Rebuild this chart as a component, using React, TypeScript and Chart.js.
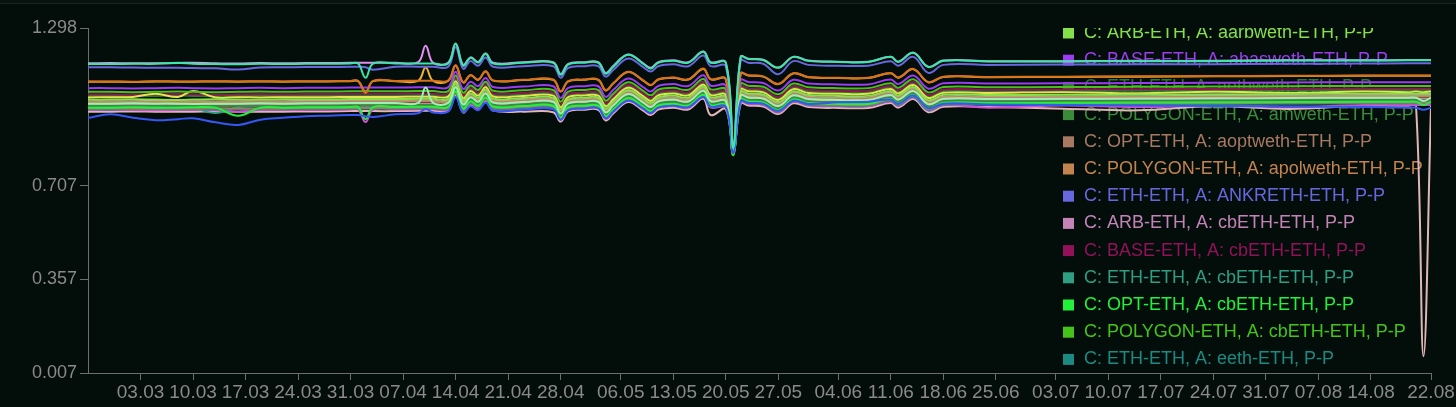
import React, { useEffect, useRef } from "react";
import { Chart, registerables } from "chart.js";

Chart.register(...registerables);

// Day offsets from 25.02 (day 0) to 22.08 (day 179)
const DAYS = [0,3,6,9,12,14,17,20,23,26,29,32,35,36,37,38,41,44,45,46,48,49,50,51,52,53,54,58,62,63,64,66,68,69,70,72,74,75,76,78,80,82,83,85,86,87,88,90,92,94,96,100,104,107,108,110,112,114,120,130,140,150,160,170,176,177,178,179];

const X_TICK_DAYS = [7,14,21,28,35,42,49,56,63,71,78,85,92,100,107,114,121,129,136,143,150,157,164,171,179];
const X_TICK_LABELS = ["03.03","10.03","17.03","24.03","31.03","07.04","14.04","21.04","28.04","06.05","13.05","20.05","27.05","04.06","11.06","18.06","25.06","03.07","10.07","17.07","24.07","31.07","07.08","14.08","22.08"];
const Y_TICKS = [0.007, 0.357, 0.707, 1.298];
const Y_MIN = 0.007;
const Y_MAX = 1.298;

const aarbweth = [1.030,1.030,1.031,1.030,1.029,1.030,1.031,1.030,1.030,1.031,1.031,1.031,1.032,1.032,1.032,1.032,1.032,1.033,1.033,1.033,1.033,1.091,1.027,1.054,1.037,1.068,1.034,1.036,1.037,0.993,1.031,1.037,1.037,0.997,1.023,1.066,1.034,1.017,1.038,1.045,1.038,1.078,1.039,1.039,0.840,1.060,1.053,1.049,1.021,1.061,1.047,1.044,1.044,1.062,1.045,1.077,1.028,1.048,1.047,1.048,1.049,1.050,1.051,1.052,1.052,1.052,1.052,1.052];
const abasweth = [1.073,1.073,1.072,1.073,1.074,1.073,1.072,1.073,1.074,1.073,1.074,1.074,1.075,1.075,1.075,1.075,1.075,1.076,1.076,1.076,1.076,1.134,1.070,1.097,1.080,1.111,1.077,1.079,1.080,1.036,1.074,1.080,1.080,1.040,1.066,1.109,1.077,1.060,1.081,1.088,1.081,1.121,1.082,1.082,0.838,1.103,1.096,1.092,1.064,1.104,1.090,1.087,1.087,1.105,1.088,1.120,1.071,1.091,1.090,1.091,1.092,1.093,1.094,1.095,1.095,1.095,1.095,1.095];
const aethweth = [1.044,1.044,1.043,1.044,1.045,1.044,1.043,1.044,1.045,1.044,1.045,1.045,1.046,1.046,1.046,1.046,1.046,1.047,1.047,1.047,1.047,1.105,1.041,1.068,1.051,1.082,1.048,1.050,1.051,1.007,1.045,1.051,1.051,1.011,1.037,1.080,1.048,1.031,1.052,1.059,1.052,1.092,1.053,1.053,0.826,1.074,1.067,1.063,1.035,1.075,1.061,1.058,1.058,1.076,1.059,1.091,1.042,1.062,1.061,1.062,1.063,1.064,1.065,1.066,1.066,1.066,1.066,1.066];
const amweth = [1.007,1.007,1.007,1.008,1.007,1.007,1.006,1.007,1.007,1.007,1.008,1.008,1.009,1.009,1.009,1.009,1.009,1.010,1.010,1.010,1.010,1.068,1.004,1.031,1.014,1.045,1.011,1.013,1.014,0.970,1.008,1.014,1.014,0.974,1.000,1.043,1.011,0.994,1.015,1.022,1.015,1.055,1.016,1.016,0.832,1.037,1.030,1.026,0.998,1.038,1.024,1.021,1.021,1.039,1.022,1.054,1.005,1.025,1.024,1.025,1.026,1.027,1.028,1.029,1.029,1.029,1.029,1.029];
const aoptweth = [0.997,0.997,0.996,0.997,0.997,0.997,0.998,0.997,0.997,0.997,0.998,0.998,0.999,0.999,0.999,0.999,0.999,1.000,1.000,1.000,1.000,1.058,0.994,1.021,1.004,1.035,1.001,1.003,1.004,0.960,0.998,1.004,1.004,0.964,0.990,1.033,1.001,0.984,1.005,1.012,1.005,1.045,1.006,1.006,0.828,1.027,1.020,1.016,0.988,1.028,1.014,1.011,1.011,1.029,1.012,1.044,0.995,1.015,1.014,1.015,1.016,1.017,1.018,1.019,1.019,1.019,1.019,1.019];
const apolweth = [1.020,1.020,1.020,1.020,1.021,1.020,1.020,1.020,1.021,1.020,1.021,1.021,1.022,1.022,1.022,1.022,1.022,1.023,1.023,1.023,1.023,1.081,1.017,1.044,1.027,1.058,1.024,1.026,1.027,0.983,1.021,1.027,1.027,0.987,1.013,1.056,1.024,1.007,1.028,1.035,1.028,1.068,1.029,1.029,0.828,1.050,1.043,1.039,1.011,1.051,1.037,1.034,1.034,1.052,1.035,1.067,1.018,1.038,1.037,1.038,1.039,1.040,1.041,1.042,1.042,1.042,1.042,1.042];
const ankreth = [1.151,1.151,1.150,1.149,1.149,1.148,1.147,1.143,1.150,1.151,1.152,1.152,1.153,1.153,1.151,1.142,1.153,1.153,1.153,1.153,1.153,1.226,1.146,1.174,1.157,1.188,1.153,1.155,1.155,1.112,1.149,1.155,1.155,1.116,1.141,1.184,1.152,1.135,1.155,1.162,1.155,1.195,1.155,1.155,0.845,1.176,1.168,1.164,1.125,1.174,1.160,1.157,1.157,1.174,1.157,1.190,1.130,1.160,1.160,1.161,1.162,1.162,1.164,1.165,1.166,1.166,1.166,1.166];
const arbCb = [1.011,1.011,1.010,1.011,1.011,1.012,1.011,1.010,1.011,1.011,1.012,1.012,1.013,1.013,1.013,1.013,1.013,1.014,1.014,1.014,1.014,1.072,1.008,1.035,1.018,1.049,1.015,1.017,1.018,0.974,1.012,1.018,1.018,0.978,1.004,1.047,1.015,0.998,1.019,1.026,1.019,1.059,1.020,1.020,0.830,1.041,1.034,1.030,1.002,1.042,1.028,1.025,1.025,1.043,1.026,1.058,1.009,1.029,1.028,1.029,1.030,1.031,1.032,1.033,1.033,1.033,1.033,1.033];
const baseCb = [1.050,1.050,1.049,1.050,1.051,1.050,1.049,1.050,1.051,1.050,1.051,1.051,1.052,1.052,1.052,1.052,1.052,1.053,1.053,1.053,1.053,1.111,1.047,1.074,1.057,1.088,1.054,1.056,1.057,1.013,1.051,1.057,1.057,1.017,1.043,1.086,1.054,1.037,1.058,1.065,1.058,1.098,1.059,1.059,0.828,1.080,1.073,1.069,1.041,1.081,1.067,1.064,1.064,1.082,1.065,1.097,1.048,1.068,1.067,1.068,1.069,1.070,1.071,1.072,1.072,1.072,1.072,1.072];
const ethCb = [1.004,1.004,1.005,1.004,1.004,1.000,0.980,1.002,1.004,1.004,1.005,1.005,1.006,1.006,1.006,1.006,1.006,1.007,1.007,1.007,1.007,1.065,1.001,1.028,1.011,1.042,1.008,1.010,1.011,0.967,1.005,1.011,1.011,0.971,0.997,1.040,1.008,0.991,1.012,1.019,1.012,1.052,1.013,1.013,0.836,1.034,1.027,1.023,0.995,1.035,1.021,1.018,1.018,1.036,1.019,1.051,1.002,1.022,1.021,1.022,1.023,1.024,1.025,1.026,1.026,1.026,1.026,1.026];
const optCb = [1.000,1.000,1.001,1.000,1.000,1.001,1.000,0.970,1.000,1.000,1.001,1.001,1.002,1.002,0.957,1.002,1.002,1.003,1.003,1.003,1.003,1.061,0.997,1.024,1.007,1.038,1.004,1.006,1.007,0.963,1.001,1.007,1.007,0.967,0.993,1.036,1.004,0.987,1.008,1.015,1.008,1.048,1.009,1.009,0.822,1.030,1.023,1.019,0.991,1.031,1.017,1.014,1.014,1.032,1.015,1.047,0.998,1.018,1.017,1.018,1.019,1.020,1.021,1.022,1.022,1.022,1.010,1.022];
const polyCb = [1.059,1.059,1.058,1.059,1.060,1.059,1.058,1.059,1.060,1.059,1.060,1.060,1.061,1.061,1.061,1.061,1.061,1.062,1.062,1.062,1.062,1.120,1.056,1.083,1.066,1.097,1.063,1.065,1.066,1.022,1.060,1.066,1.066,1.026,1.052,1.095,1.063,1.046,1.067,1.074,1.067,1.107,1.068,1.068,0.832,1.089,1.082,1.078,1.050,1.090,1.076,1.073,1.073,1.091,1.074,1.106,1.057,1.077,1.076,1.077,1.078,1.079,1.080,1.081,1.081,1.081,1.081,1.081];
const eeth = [0.994,0.994,0.994,0.995,0.994,0.994,0.993,0.994,0.994,0.994,0.995,0.995,0.996,0.996,0.996,0.996,0.996,0.997,0.997,0.997,0.997,1.055,0.991,1.018,1.001,1.032,0.998,1.000,1.001,0.957,0.995,1.001,1.001,0.961,0.987,1.030,0.998,0.981,1.002,1.009,1.002,1.042,1.003,1.003,0.834,1.024,1.017,1.013,0.985,1.025,1.011,1.008,1.008,1.026,1.009,1.041,0.992,1.012,1.011,1.012,1.013,1.014,1.015,1.016,1.016,1.016,1.016,1.016];
const ezeth = [1.163,1.163,1.164,1.164,1.168,1.164,1.163,1.162,1.164,1.163,1.164,1.164,1.165,1.165,1.112,1.165,1.165,1.165,1.165,1.165,1.165,1.240,1.158,1.187,1.169,1.202,1.165,1.168,1.168,1.123,1.161,1.168,1.168,1.127,1.153,1.198,1.164,1.146,1.168,1.175,1.168,1.209,1.168,1.168,0.850,1.190,1.182,1.178,1.149,1.190,1.175,1.171,1.171,1.190,1.171,1.205,1.152,1.175,1.173,1.173,1.174,1.174,1.176,1.176,1.177,1.177,1.177,1.177];
const oseth = [1.166,1.167,1.166,1.166,1.167,1.168,1.166,1.165,1.167,1.166,1.167,1.167,1.168,1.168,1.168,1.168,1.168,1.170,1.232,1.168,1.168,1.238,1.160,1.188,1.171,1.203,1.168,1.170,1.170,1.126,1.164,1.170,1.170,1.130,1.156,1.199,1.166,1.149,1.170,1.177,1.170,1.210,1.170,1.170,0.860,1.190,1.183,1.179,1.150,1.190,1.176,1.172,1.172,1.190,1.172,1.205,1.153,1.176,1.174,1.174,1.175,1.175,1.177,1.177,1.178,1.178,1.178,1.178];
const reth = [1.098,1.098,1.097,1.099,1.098,1.098,1.099,1.098,1.099,1.098,1.099,1.099,1.100,1.100,1.055,1.100,1.100,1.101,1.101,1.101,1.101,1.159,1.095,1.122,1.105,1.136,1.102,1.104,1.105,1.061,1.099,1.105,1.105,1.065,1.091,1.134,1.102,1.085,1.106,1.113,1.106,1.146,1.107,1.107,0.835,1.128,1.121,1.117,1.089,1.129,1.115,1.112,1.112,1.130,1.113,1.145,1.096,1.116,1.115,1.116,1.117,1.118,1.119,1.120,1.120,1.120,1.120,1.120];
const arbReth = [1.097,1.097,1.096,1.098,1.097,1.097,1.098,1.097,1.098,1.097,1.098,1.098,1.099,1.099,1.060,1.099,1.099,1.100,1.150,1.100,1.100,1.158,1.094,1.121,1.104,1.135,1.101,1.103,1.104,1.060,1.098,1.104,1.104,1.064,1.090,1.133,1.101,1.084,1.105,1.112,1.105,1.145,1.106,1.106,0.834,1.127,1.120,1.116,1.088,1.128,1.114,1.111,1.111,1.129,1.112,1.144,1.095,1.115,1.114,1.115,1.116,1.117,1.118,1.119,1.119,1.119,1.119,1.119];
const rseth = [1.038,1.039,1.040,1.052,1.040,1.062,1.038,1.039,1.038,1.039,1.039,1.039,1.040,1.040,1.040,1.040,1.040,1.041,1.041,1.041,1.041,1.099,1.035,1.062,1.045,1.076,1.042,1.044,1.045,1.001,1.039,1.045,1.045,1.005,1.031,1.074,1.042,1.025,1.046,1.053,1.046,1.086,1.047,1.047,0.830,1.068,1.061,1.057,1.029,1.069,1.055,1.052,1.052,1.070,1.053,1.085,1.036,1.056,1.055,1.058,1.054,1.059,1.056,1.060,1.058,1.060,1.058,1.060];
const sfrxeth = [1.024,1.024,1.024,1.025,1.024,1.024,1.023,1.024,1.024,1.024,1.025,1.025,1.026,1.026,1.026,1.026,1.026,1.027,1.027,1.027,1.027,1.085,1.021,1.048,1.031,1.062,1.028,1.030,1.031,0.987,1.025,1.031,1.031,0.991,1.017,1.060,1.028,1.011,1.032,1.039,1.032,1.072,1.033,1.033,0.835,1.054,1.047,1.043,1.015,1.055,1.041,1.038,1.038,1.056,1.039,1.071,1.022,1.042,1.041,1.042,1.043,1.044,1.045,1.046,1.046,1.046,1.046,1.046];
const wsteth = [1.015,1.015,1.016,1.015,1.015,1.014,1.015,1.015,1.016,1.015,1.016,1.016,1.017,1.017,1.017,1.017,1.017,1.018,1.075,1.018,1.018,1.076,1.012,1.039,1.022,1.053,1.019,1.021,1.022,0.978,1.016,1.022,1.022,0.982,1.008,1.051,1.019,1.002,1.023,1.030,1.023,1.063,1.024,1.024,0.845,1.045,1.038,1.034,1.006,1.046,1.032,1.029,1.029,1.047,1.030,1.062,1.013,1.033,1.032,1.033,1.034,1.035,1.036,1.037,1.037,1.037,1.025,1.037];
const weeth = [0.991,0.992,0.991,0.990,0.991,0.991,0.990,0.985,0.991,0.991,0.992,0.992,0.993,0.993,0.946,0.993,0.993,0.994,0.994,0.994,0.994,1.052,0.988,1.015,0.998,1.029,0.995,0.997,0.998,0.954,0.992,0.998,0.998,0.958,0.984,1.027,0.995,0.978,0.999,1.006,0.999,1.039,1.000,1.000,0.826,1.021,1.014,1.010,0.982,1.022,1.008,1.005,1.005,1.023,1.006,1.038,0.989,1.009,1.000,1.008,1.002,1.009,1.003,1.010,1.010,1.010,1.010,1.010];
const sweth = [0.985,0.985,0.986,0.985,0.985,0.985,0.986,0.985,0.985,0.985,0.986,0.986,0.987,0.987,0.987,0.987,0.987,0.988,0.988,0.988,0.988,1.046,0.982,1.009,0.992,1.023,0.989,0.985,0.983,0.948,0.986,0.992,0.992,0.952,0.978,1.021,0.989,0.972,0.993,1.000,0.993,1.033,0.972,0.994,0.826,1.015,1.008,1.004,0.976,1.016,1.002,0.999,0.999,1.017,1.000,1.032,0.983,1.003,1.002,0.996,0.990,1.005,0.995,1.007,1.007,1.007,0.070,1.007];
const steth = [0.961,0.975,0.962,0.953,0.957,0.960,0.945,0.935,0.955,0.962,0.968,0.970,0.972,0.972,0.968,0.965,0.975,0.979,0.995,0.982,0.985,1.040,0.982,1.005,0.990,1.018,0.988,0.992,0.994,0.955,0.990,0.996,0.998,0.960,0.985,1.026,0.996,0.980,1.000,1.007,1.002,1.040,1.003,1.004,0.830,1.025,1.018,1.015,0.988,1.026,1.014,1.020,1.022,1.030,1.014,1.045,0.998,1.015,1.012,1.010,1.008,1.006,1.004,1.002,1.000,1.000,0.992,1.000];

const SERIES_LABELS = [
  "C: ARB-ETH, A: aarbweth-ETH, P-P",
  "C: BASE-ETH, A: abasweth-ETH, P-P",
  "C: ETH-ETH, A: aethweth-ETH, P-P",
  "C: POLYGON-ETH, A: amweth-ETH, P-P",
  "C: OPT-ETH, A: aoptweth-ETH, P-P",
  "C: POLYGON-ETH, A: apolweth-ETH, P-P",
  "C: ETH-ETH, A: ANKRETH-ETH, P-P",
  "C: ARB-ETH, A: cbETH-ETH, P-P",
  "C: BASE-ETH, A: cbETH-ETH, P-P",
  "C: ETH-ETH, A: cbETH-ETH, P-P",
  "C: OPT-ETH, A: cbETH-ETH, P-P",
  "C: POLYGON-ETH, A: cbETH-ETH, P-P",
  "C: ETH-ETH, A: eeth-ETH, P-P",
  "C: ETH-ETH, A: ezETH-ETH, P-P",
  "C: ETH-ETH, A: osETH-ETH, P-P",
  "C: ETH-ETH, A: rETH-ETH, P-P",
  "C: ARB-ETH, A: rETH-ETH, P-P",
  "C: ETH-ETH, A: rsETH-ETH, P-P",
  "C: ETH-ETH, A: sfrxETH-ETH, P-P",
  "C: ETH-ETH, A: wstETH-ETH, P-P",
  "C: ETH-ETH, A: weETH-ETH, P-P",
  "C: ETH-ETH, A: swETH-ETH, P-P",
  "C: ETH-ETH, A: stETH-ETH, P-P",
];
const SERIES_VALUES = [aarbweth, abasweth, aethweth, amweth, aoptweth, apolweth, ankreth, arbCb, baseCb, ethCb, optCb, polyCb, eeth, ezeth, oseth, reth, arbReth, rseth, sfrxeth, wsteth, weeth, sweth, steth];
const SERIES_COLORS = ["#86e04a","#9d3cf2","#2d7a2d","#3a8c3a","#a87862","#c4834e","#6868de","#c383b6","#93105a","#2f9e82","#22f03a","#44c41a","#1c8a82","#38e8a8","#e38ef0","#d8701c","#f2b430","#e4e44c","#a8a8a8","#9cf0b4","#d24fd2","#e2b6b6","#3558f5"];
const SERIES_ORDER = [5,6,14,15,16,13,10,17,12,18,3,7,19,0,9,4,11,8,20,2,21,22,1];

const FONT = '"Liberation Sans", Arial, Helvetica, sans-serif';

const insideLegend = {
  id: "insideLegend",
  beforeDatasetsDraw(chart: any) {
    const { ctx, chartArea, width } = chart;
    ctx.save();
    ctx.beginPath();
    ctx.rect(chartArea.left, chartArea.top, width - chartArea.left, chartArea.bottom - chartArea.top);
    ctx.clip();
    ctx.font = `18px ${FONT}`;
    ctx.textBaseline = "middle";
    ctx.textAlign = "left";
    const boxX = chartArea.right - 368;
    chart.data.datasets.forEach((ds: any, i: number) => {
      const cy = chartArea.top + 5 + i * 27.2;
      ctx.fillStyle = ds.borderColor;
      ctx.fillRect(boxX, cy - 5.5, 11, 11);
      ctx.fillText(ds.label, boxX + 21, cy);
    });
    ctx.restore();
  },
};

export default function App() {
  const ref = useRef<HTMLCanvasElement | null>(null);
  useEffect(() => {
    document.body.style.margin = "0";
    document.body.style.background = "#030e0b";
    if (!ref.current) return;
    const datasets = SERIES_LABELS.map((label, i) => ({
      label,
      data: DAYS.map((d, j) => ({ x: d, y: SERIES_VALUES[i][j] })),
      borderColor: SERIES_COLORS[i],
      backgroundColor: SERIES_COLORS[i],
      borderWidth: 2,
      pointRadius: 0,
      pointHoverRadius: 0,
      tension: 0.4,
      fill: false,
      order: SERIES_ORDER[i],
    }));
    const chart = new Chart(ref.current, {
      type: "line",
      data: { datasets },
      plugins: [insideLegend],
      options: {
        animation: false,
        responsive: true,
        maintainAspectRatio: false,
        layout: { padding: { top: 28, right: 25, bottom: 0, left: 0 } },
        plugins: { legend: { display: false }, tooltip: { enabled: false } },
        scales: {
          x: {
            type: "linear",
            min: 0,
            max: 179,
            afterBuildTicks: (scale: any) => {
              scale.ticks = X_TICK_DAYS.map((v) => ({ value: v }));
            },
            afterFit: (scale: any) => {
              scale.height = 34;
            },
            grid: { drawOnChartArea: false, drawTicks: true, tickLength: 7, color: "#6e6e6e" },
            border: { display: true, color: "#6e6e6e", width: 1 },
            ticks: {
              autoSkip: false,
              maxRotation: 0,
              padding: 1,
              color: "#8a8a8a",
              font: { family: FONT, size: 19 },
              callback: (v: any) => {
                const k = X_TICK_DAYS.indexOf(Number(v));
                return k >= 0 ? X_TICK_LABELS[k] : "";
              },
            },
          },
          y: {
            type: "linear",
            min: Y_MIN,
            max: Y_MAX,
            afterBuildTicks: (scale: any) => {
              scale.ticks = Y_TICKS.map((v) => ({ value: v }));
            },
            afterFit: (scale: any) => {
              scale.width = 88;
            },
            grid: { drawOnChartArea: false, drawTicks: true, tickLength: 8, color: "#6e6e6e" },
            border: { display: true, color: "#6e6e6e", width: 1 },
            ticks: {
              padding: 3,
              color: "#8a8a8a",
              font: { family: FONT, size: 18 },
              callback: (v: any) => Number(v).toFixed(3),
            },
          },
        },
      },
    });
    return () => chart.destroy();
  }, []);
  return (
    <div style={{ position: "relative", width: 1456, height: 407, background: "#030e0b", overflow: "hidden" }}>
      <div style={{ position: "absolute", left: 0, top: 0, width: 1456, height: 3, background: "#07130f" }} />
      <div style={{ position: "absolute", left: 0, top: 3, width: 1456, height: 1, background: "#18251f" }} />
      <canvas ref={ref} style={{ position: "absolute", left: 0, top: 0, width: 1456, height: 407 }} />
    </div>
  );
}
